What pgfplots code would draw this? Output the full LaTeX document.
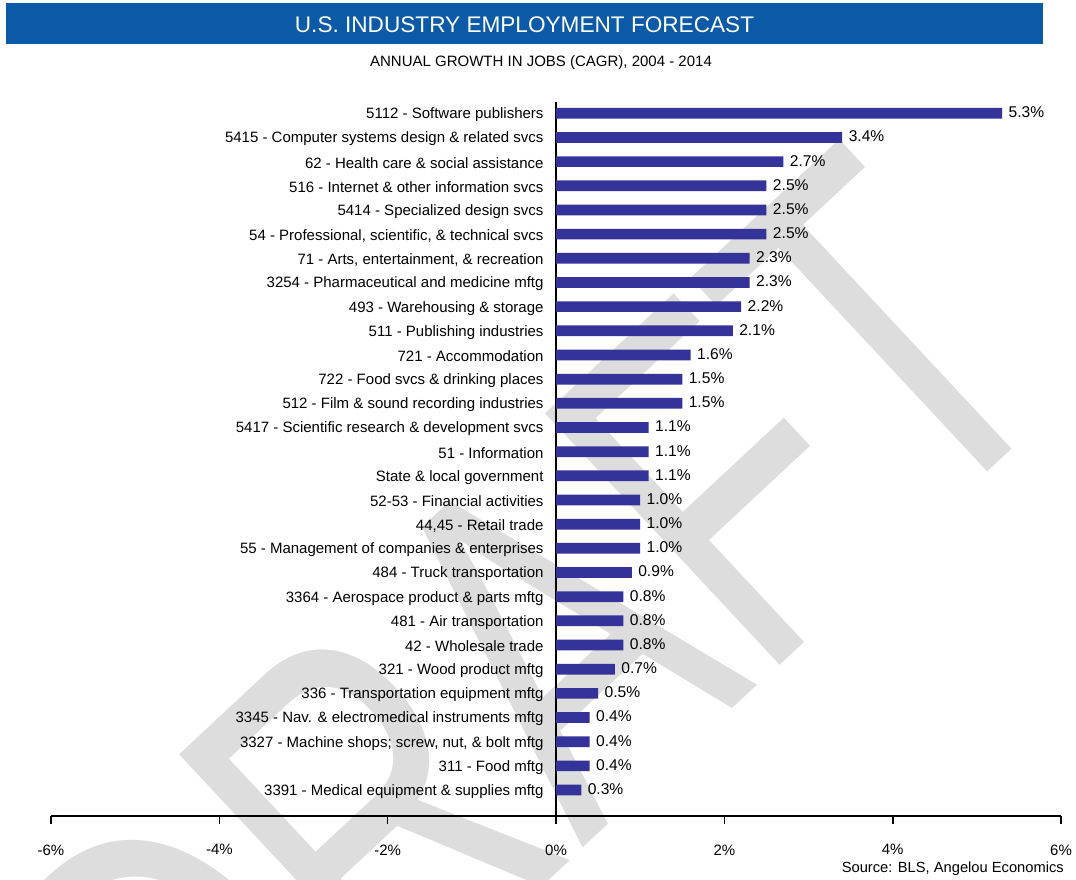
\documentclass[border=0pt]{standalone}
\usepackage{fontspec}
\setmainfont{Liberation Sans}
\usepackage{pgfplots}
\pgfplotsset{compat=1.18}
\definecolor{barblue}{RGB}{51,51,153}
\definecolor{titleblue}{RGB}{10,90,168}
\definecolor{wmgray}{RGB}{221,221,221}

\begin{document}
\begin{tikzpicture}
\path[use as bounding box] (0,0) rectangle (1076bp,-880bp);

% faint watermark behind the chart
\begin{scope}[x=1bp,y=-1bp]
  \clip (0,0) rectangle (1076,880);
  \node[rotate=43, xscale=0.72, anchor=base east, inner sep=0pt, text=wmgray,
        font=\fontsize{500bp}{520bp}\selectfont] at (1080,385) {DRAFT};
\end{scope}

% title banner
\fill[titleblue] (6bp,-3bp) rectangle (1043bp,-44bp);
\node[anchor=base, text=white, inner sep=0pt, font=\fontsize{22.6bp}{26bp}\selectfont]
  at (524.5bp,-32.5bp) {U.S. INDUSTRY EMPLOYMENT FORECAST};
\node[anchor=base, inner sep=0pt, font=\fontsize{15bp}{18bp}\selectfont]
  at (541bp,-66bp) {ANNUAL GROWTH IN JOBS (CAGR), 2004 - 2014};

\begin{axis}[
  at={(51bp,-816bp)}, anchor=south west,
  scale only axis, width=1010bp, height=714bp,
  xmin=-6, xmax=6, ymin=-1.075, ymax=28.467,
  enlargelimits=false, clip=false,
  axis x line=bottom, axis y line=middle,
  hide obscured x ticks=false,
  x axis line style={-, line width=1.6bp},
  y axis line style={-, line width=1.2bp},
  xtick={-6,-4,-2,0,2,4,6},
  xticklabel={\pgfmathprintnumber{\tick}\%},
  /pgf/number format/assume math mode=true,
  tick align=outside,
  major tick length=8bp,
  xtick style={line width=1.6bp, black},
  xticklabel style={font=\fontsize{15bp}{18bp}\selectfont, yshift=-17bp},
  ytick={0,...,28},
  ytick style={draw=none},
  yticklabel style={font=\fontsize{15bp}{18bp}\selectfont, anchor=east, xshift=-1bp, yshift=-1.5bp},
  yticklabels={
    {3391 - Medical equipment \& supplies mftg},
    {311 - Food mftg},
    {3327 - Machine shops; screw, nut, \& bolt mftg},
    {3345 - Nav. \& electromedical instruments mftg},
    {336 - Transportation equipment mftg},
    {321 - Wood product mftg},
    {42 - Wholesale trade},
    {481 - Air transportation},
    {3364 - Aerospace product \& parts mftg},
    {484 - Truck transportation},
    {55 - Management of companies \& enterprises},
    {44,45 - Retail trade},
    {52-53 - Financial activities},
    {State \& local government},
    {51 - Information},
    {5417 - Scientific research \& development svcs},
    {512 - Film \& sound recording industries},
    {722 - Food svcs \& drinking places},
    {721 - Accommodation},
    {511 - Publishing industries},
    {493 - Warehousing \& storage},
    {3254 - Pharmaceutical and medicine mftg},
    {71 - Arts, entertainment, \& recreation},
    {54 - Professional, scientific, \& technical svcs},
    {5414 - Specialized design svcs},
    {516 - Internet \& other information svcs},
    {62 - Health care \& social assistance},
    {5415 - Computer systems design \& related svcs},
    {5112 - Software publishers}},
]
\addplot[xbar, bar width=10.7bp, bar shift=0pt, fill=barblue, draw=none,
  point meta=x,
  nodes near coords={\pgfmathprintnumber[fixed,fixed zerofill,precision=1]{\pgfplotspointmeta}\%},
  nodes near coords align={horizontal},
  every node near coord/.append style={font=\fontsize{15.6bp}{18bp}\selectfont, text=black, xshift=3bp, yshift=1bp}]
coordinates {
  (0.3,0) (0.4,1) (0.4,2) (0.4,3) (0.5,4) (0.7,5) (0.8,6) (0.8,7) (0.8,8)
  (0.9,9) (1.0,10) (1.0,11) (1.0,12) (1.1,13) (1.1,14) (1.1,15) (1.5,16)
  (1.5,17) (1.6,18) (2.1,19) (2.2,20) (2.3,21) (2.3,22) (2.5,23) (2.5,24)
  (2.5,25) (2.7,26) (3.4,27) (5.3,28)
};
\end{axis}

\node[anchor=base east, inner sep=0pt, font=\fontsize{14.7bp}{17bp}\selectfont]
  at (1064bp,-872bp) {Source: BLS, Angelou Economics};
\end{tikzpicture}
\end{document}
